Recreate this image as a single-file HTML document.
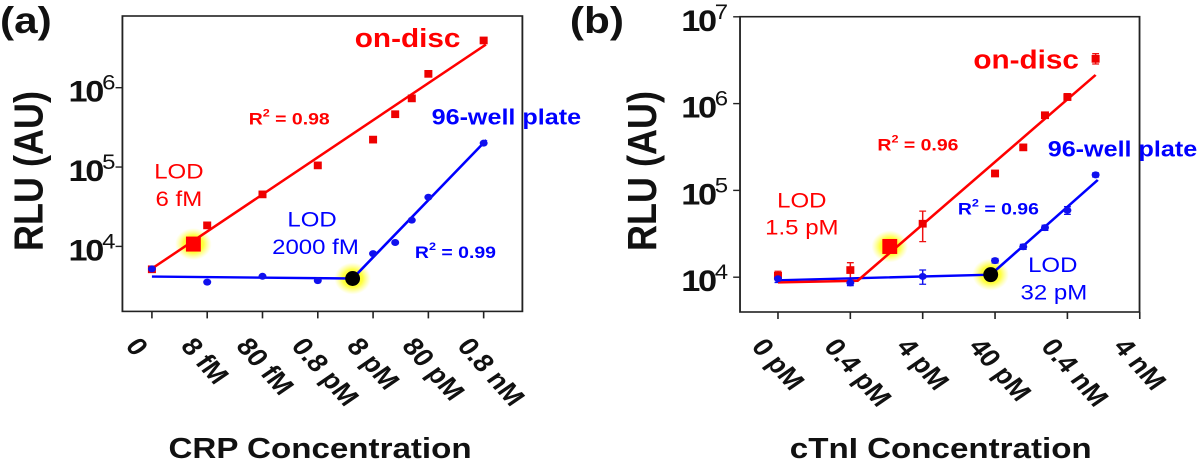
<!DOCTYPE html>
<html><head><meta charset="utf-8"><style>
html,body{margin:0;padding:0;background:#fff;width:1200px;height:461px;overflow:hidden}
svg{display:block}
text{font-family:"Liberation Sans",Arial,sans-serif}
</style></head><body>
<svg id="fig" width="1200" height="461" viewBox="0 0 1049.8 461" preserveAspectRatio="none" xmlns="http://www.w3.org/2000/svg">
<defs>
<radialGradient id="glow"><stop offset="0" stop-color="#ffff00" stop-opacity="1"/><stop offset="0.55" stop-color="#ffff20" stop-opacity="0.85"/><stop offset="1" stop-color="#ffff60" stop-opacity="0"/></radialGradient>
</defs>
<g id="pa"></g>
<g id="pb"></g>
</svg>
<script>
// ---- Panel (a) data: CRP ----
const aCategories = ["0","8 fM","80 fM","0.8 pM","8 pM","80 pM","0.8 nM"];
const aTickLabels = ["4","5","6"];
const aRedX = [0,1,2,3,4,4.4,4.7,5,6];
const aRedY = [5200,18600,45700,106000,224000,468000,741000,1510000,3980000];
const aRedFitX = [0,6.04];
const aRedFitY = [5250,3500000];
const aRedLod = [0.75,10700];
const aBlueX = [0,1,2,3,4,4.4,4.7,5,6];
const aBlueY = [5200,3550,4200,3700,8100,11200,21400,41700,200000];
const aBlueFitX = [0,3.63,6.05];
const aBlueFitY = [4170,3940,219000];
const aBlueLod = [3.63,3940];
// ---- Panel (b) data: cTnI ----
const bCategories = ["0 pM","0.4 pM","4 pM","40 pM","0.4 nM","4 nM"];
const bTickLabels = ["4","5","6","7"];
const bRedX = [0,1,2,3,3.39,3.69,4,4.39];
const bRedY = [10500,12200,41700,158000,316000,741000,1200000,3310000];
const bRedErr = [1200,2500,16000,12000,15000,40000,100000,450000];
const bRedFitX = [0,1.1,4.39];
const bRedFitY = [8700,9100,2140000];
const bRedLod = [1.545,22600];
const bBlueX = [0,1,2,3,3.39,3.69,4,4.39];
const bBlueY = [9600,8600,10200,15500,22400,37200,58900,151000];
const bBlueErr = [900,600,1900,900,1500,2500,6000,8000];
const bBlueFitX = [0,2.94,4.42];
const bBlueFitY = [9200,10700,132000];
const bBlueLod = [2.94,10700];

const NS="http://www.w3.org/2000/svg";
function mk(parent,tag,attrs,txt){const e=document.createElementNS(NS,tag);for(const k in attrs)e.setAttribute(k,attrs[k]);if(txt!==undefined)e.textContent=txt;parent.appendChild(e);return e;}

function drawPanel(g,cfg){
  const X=i=>cfg.x0+i*cfg.dx;
  const Y=v=>cfg.y4-(Math.log10(v)-4)*cfg.dec;
  const bold="bold";
  const box=mk(g,'rect',{x:cfg.bx0,y:cfg.by0,width:cfg.bx1-cfg.bx0,height:cfg.by1-cfg.by0,fill:'none',stroke:'#222','stroke-width':1.6});
  
  
  cfg.yTicks.forEach(t=>{
    const y=Y(Math.pow(10,+t));
    const tk=mk(g,'line',{x1:cfg.bx0-6,x2:cfg.bx0,y1:y,y2:y,stroke:'#222','stroke-width':1.4});
    
    
    const tx=mk(g,'text',{x:cfg.ylx,y:y+14,'text-anchor':'end','font-size':30,'font-weight':bold,fill:'#111','letter-spacing':-2});
    
    
    mk(tx,'tspan',{},'10');
    mk(tx,'tspan',{dy:-12,'font-size':21,'font-weight':'normal'},t);
  });
  cfg.cats.forEach((c,i)=>{
    const x=X(i);
    const tk=mk(g,'line',{x1:x,x2:x,y1:cfg.by1,y2:cfg.by1+7,stroke:'#222','stroke-width':1.4});
    
    
    const sx=x-24, sy=cfg.by1+35;
    const tx=mk(g,'text',{x:sx,y:sy,'font-size':25,'font-weight':bold,fill:'#111',transform:`rotate(52 ${sx} ${sy})`},c);
    
    
  });
  const glow=(p,r)=>{const c=mk(g,'circle',{cx:X(p[0]),cy:Y(p[1]),r:r,fill:'url(#glow)'});};
  glow(cfg.redLod,16);glow(cfg.blueLod,16);
  const line=(xs,ys,col,name)=>{const pts=xs.map((x,i)=>X(x)+','+Y(ys[i])).join(' ');const l=mk(g,'polyline',{points:pts,fill:'none',stroke:col,'stroke-width':2.4});};
  const err=(xs,ys,es,col)=>{if(!es)return;xs.forEach((x,i)=>{const cx=X(x);const a=Y(ys[i]+es[i]),b=Y(Math.max(ys[i]-es[i],1));const p=mk(g,'path',{d:`M${cx},${a}V${b}M${cx-3},${a}H${cx+3}M${cx-3},${b}H${cx+3}`,stroke:col,'stroke-width':1.3,fill:'none'});});};
  err(cfg.redX,cfg.redY,cfg.redErr,'#ee1111');
  err(cfg.blueX,cfg.blueY,cfg.blueErr,'#1111ee');
  line(cfg.blueFitX,cfg.blueFitY,'#0000ff','fit-line-96-well');
  line(cfg.redFitX,cfg.redFitY,'#ff0000','fit-line-on-disc');
  cfg.redX.forEach((x,i)=>{const s=7;const r=mk(g,'rect',{x:X(x)-s/2,y:Y(cfg.redY[i])-s/2,width:s,height:s*1.1,fill:'#ee0000'});});
  cfg.blueX.forEach((x,i)=>{const c=mk(g,'circle',{cx:X(x),cy:Y(cfg.blueY[i]),r:3.5,fill:'#1010ee'});});
  const rl=mk(g,'rect',{x:X(cfg.redLod[0])-6.5,y:Y(cfg.redLod[1])-7.5,width:13,height:15,fill:'#ff0000'});
  
  
  const bl=mk(g,'ellipse',{cx:X(cfg.blueLod[0]),cy:Y(cfg.blueLod[1]),rx:6.5,ry:7.5,fill:'#000'});
  
  
  cfg.texts.forEach(t=>{
    const e=mk(g,'text',{x:t.x,y:t.y,'text-anchor':t.a||'start','font-size':t.s,'font-weight':t.w||'normal',fill:t.c});
    
    
    if(t.sup){mk(e,'tspan',{},'R');mk(e,'tspan',{dy:-8,'font-size':t.s*0.65},'2');mk(e,'tspan',{dy:8,'xml:space':'preserve'},t.txt);}
    else e.textContent=t.txt;
  });
}

const red='#ff0000', blue='#0000ff';
drawPanel(document.getElementById('pa'),{
  bx0:107.1,bx1:457,by0:16,by1:311.4,x0:132.9,dx:48.37,y4:246.4,dec:79.35,ylx:99,
  yTicks:aTickLabels,cats:aCategories,
  redX:aRedX,redY:aRedY,redFitX:aRedFitX,redFitY:aRedFitY,redLod:aRedLod,
  blueX:aBlueX,blueY:aBlueY,blueFitX:aBlueFitX,blueFitY:aBlueFitY,blueLod:aBlueLod,
  texts:[
    {x:0,y:33,s:37,w:'bold',c:'#111',txt:'(a)',n:'panel-label-a'},
    {x:356.6,y:47,s:26,w:'bold',c:red,a:'middle',txt:'on-disc',n:'legend-on-disc'},
    {x:217.6,y:124.5,s:17,w:'bold',c:red,sup:1,txt:'  =  0.98',n:'r2-on-disc'},
    {x:377.6,y:124.5,s:22,w:'bold',c:blue,txt:'96-well plate',n:'legend-96-well'},
    {x:156.5,y:178.4,s:21,c:red,a:'middle',txt:'LOD',n:'lod-label-on-disc'},
    {x:156.5,y:206,s:21,c:red,a:'middle',txt:'6 fM',n:'lod-value-on-disc'},
    {x:273,y:226.3,s:21,c:blue,a:'middle',txt:'LOD',n:'lod-label-96-well'},
    {x:276,y:253.8,s:21,c:blue,a:'middle',txt:'2000 fM',n:'lod-value-96-well'},
    {x:363,y:257.8,s:17,w:'bold',c:blue,sup:1,txt:'  =  0.99',n:'r2-96-well'}
  ]
});
drawPanel(document.getElementById('pb'),{
  bx0:647.4,bx1:996.9,by0:16.7,by1:312,x0:680.6,dx:63.3,y4:277.2,dec:86.8,ylx:635,
  yTicks:bTickLabels,cats:bCategories,
  redX:bRedX,redY:bRedY,redErr:bRedErr,redFitX:bRedFitX,redFitY:bRedFitY,redLod:bRedLod,
  blueX:bBlueX,blueY:bBlueY,blueErr:bBlueErr,blueFitX:bBlueFitX,blueFitY:bBlueFitY,blueLod:bBlueLod,
  texts:[
    {x:498.6,y:33,s:37,w:'bold',c:'#111',txt:'(b)',n:'panel-label-b'},
    {x:897.7,y:68.6,s:26,w:'bold',c:red,a:'middle',txt:'on-disc',n:'legend-on-disc'},
    {x:767.6,y:150.6,s:17,w:'bold',c:red,sup:1,txt:'  =  0.96',n:'r2-on-disc'},
    {x:916.6,y:156.7,s:22,w:'bold',c:blue,txt:'96-well plate',n:'legend-96-well'},
    {x:701.5,y:207.6,s:21,c:red,a:'middle',txt:'LOD',n:'lod-label-on-disc'},
    {x:701.5,y:234.3,s:21,c:red,a:'middle',txt:'1.5 pM',n:'lod-value-on-disc'},
    {x:838,y:214.3,s:17,w:'bold',c:blue,sup:1,txt:'  =  0.96',n:'r2-96-well'},
    {x:921,y:271.8,s:21,c:blue,a:'middle',txt:'LOD',n:'lod-label-96-well'},
    {x:922,y:299.6,s:21,c:blue,a:'middle',txt:'32 pM',n:'lod-value-96-well'}
  ]
});
const fig=document.getElementById('fig');
function title(x,y,txt,rot,name,size){
  const t=mk(fig,'text',{x:x,y:y,'text-anchor':'middle','font-size':size,'font-weight':'bold',fill:'#111'},txt);
  if(rot)t.setAttribute('transform',`rotate(-90 ${x} ${y})`);
  
  
}
title(37,171,'RLU (AU)',1,'y-axis-title-a',36);
title(574,171,'RLU (AU)',1,'y-axis-title-b',36);
title(280,458,'CRP Concentration',0,'x-axis-title-a',29);
title(823,458,'cTnI Concentration',0,'x-axis-title-b',29);
</script>
</body></html>
